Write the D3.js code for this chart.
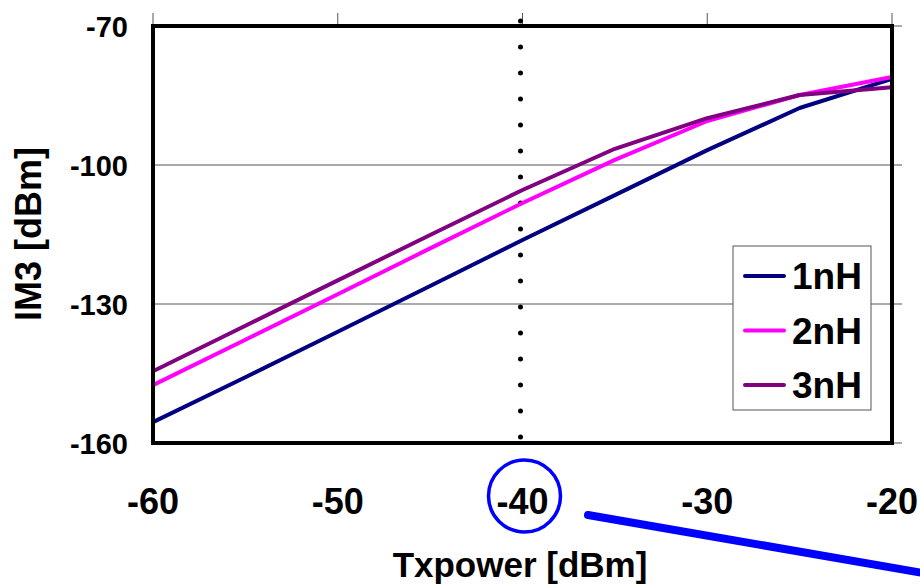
<!DOCTYPE html>
<html>
<head>
<meta charset="utf-8">
<title>IM3 vs Txpower</title>
<script src="https://cdn.jsdelivr.net/npm/d3@7"></script>
<style>
body { margin: 0; background: #fff; }
text { font-family: "Liberation Sans", Arial, sans-serif; font-weight: bold; fill: #000; }
</style>
</head>
<body>
<svg id="chart" width="920" height="585"></svg>
<script>
// data
var txpower = [-60, -55, -50, -45, -40, -35, -30, -25, -20];
var im3_1nH = [-155.5, -145.8, -136.0, -126.1, -116.2, -106.5, -96.8, -87.7, -81.4];
var im3_2nH = [-147.5, -137.7, -127.9, -118.0, -108.2, -98.9, -90.5, -84.9, -81.0];
var im3_3nH = [-144.5, -134.7, -124.9, -115.1, -105.4, -96.5, -89.9, -84.9, -83.2];
var seriesNames = ["1nH", "2nH", "3nH"];
var seriesColors = ["#000080", "#ff00ff", "#800080"];
var xTicks = [-60, -50, -40, -30, -20];
var yTicks = [-160, -130, -100, -70];

var series = [im3_1nH, im3_2nH, im3_3nH];

var svg = d3.select("#chart");
var x = d3.scaleLinear().domain([-60, -20]).range([153, 892]);
var y = d3.scaleLinear().domain([-160, -70]).range([443, 26]);

// grid lines (inner ones) + right-side ticks
svg.selectAll("line.grid").data(yTicks).enter().append("line")
  .attr("class", "grid")
  .attr("x1", x(-60)).attr("x2", x(-20) + 10)
  .attr("y1", function(d) { return y(d); }).attr("y2", function(d) { return y(d); })
  .attr("stroke", "#555").attr("stroke-width", 1);

// top ticks
svg.selectAll("line.xtick").data(xTicks).enter().append("line")
  .attr("class", "xtick")
  .attr("x1", function(d) { return x(d); }).attr("x2", function(d) { return x(d); })
  .attr("y1", y(-70) - 13).attr("y2", y(-70))
  .attr("stroke", "#555").attr("stroke-width", 1);

// dotted marker at -40
svg.append("line")
  .attr("x1", x(-40) - 2).attr("x2", x(-40) - 2)
  .attr("y1", 21).attr("y2", 463)
  .attr("stroke", "#000").attr("stroke-width", 5)
  .attr("stroke-linecap", "round").attr("stroke-dasharray", "0 26");

// series
var line = d3.line()
  .x(function(d, i) { return x(txpower[i]); })
  .y(function(d) { return y(d); });

series.forEach(function(s, k) {
  svg.append("path")
    .attr("d", line(s))
    .attr("fill", "none")
    .attr("stroke", seriesColors[k])
    .attr("stroke-width", 4)
    .attr("stroke-linejoin", "round");
});

// frame
svg.append("rect")
  .attr("x", x(-60)).attr("y", y(-70))
  .attr("width", x(-20) - x(-60)).attr("height", y(-160) - y(-70))
  .attr("fill", "none").attr("stroke", "#000").attr("stroke-width", 4);

// y tick labels
svg.selectAll("text.ylab").data(yTicks).enter().append("text")
  .attr("class", "ylab")
  .attr("x", 128).attr("y", function(d) { return y(d) + 11; })
  .attr("text-anchor", "end").style("font-size", "29px")
  .text(function(d) { return d; });

// x tick labels
svg.selectAll("text.xlab").data(xTicks).enter().append("text")
  .attr("class", "xlab")
  .attr("x", function(d) { return x(d); }).attr("y", 514)
  .attr("text-anchor", "middle").style("font-size", "36px")
  .text(function(d) { return d; });

// axis titles
svg.append("text")
  .attr("x", 520).attr("y", 577)
  .attr("text-anchor", "middle").style("font-size", "35px")
  .text("Txpower [dBm]");

svg.append("text")
  .attr("transform", "translate(41,234) rotate(-90)")
  .attr("text-anchor", "middle").style("font-size", "36px")
  .text("IM3 [dBm]");

// legend
var lg = svg.append("g");
lg.append("rect")
  .attr("x", 733).attr("y", 246).attr("width", 138).attr("height", 164)
  .attr("fill", "#fff").attr("stroke", "#555").attr("stroke-width", 1);
seriesNames.forEach(function(n, k) {
  var ly = 276 + k * 54.5;
  lg.append("line")
    .attr("x1", 745).attr("x2", 784).attr("y1", ly).attr("y2", ly)
    .attr("stroke", seriesColors[k]).attr("stroke-width", 4)
    .attr("stroke-linecap", "round");
  lg.append("text")
    .attr("x", 792).attr("y", ly + 13)
    .style("font-size", "37px")
    .text(n);
});

// annotation: circle round -40 and pointer line
svg.append("circle")
  .attr("cx", x(-40) + 2).attr("cy", 496).attr("r", 36)
  .attr("fill", "none").attr("stroke", "#0000ff").attr("stroke-width", 3.5);
svg.append("line")
  .attr("x1", 588).attr("y1", 515).attr("x2", 940).attr("y2", 576)
  .attr("stroke", "#0000ff").attr("stroke-width", 8).attr("stroke-linecap", "round");
</script>
</body>
</html>
